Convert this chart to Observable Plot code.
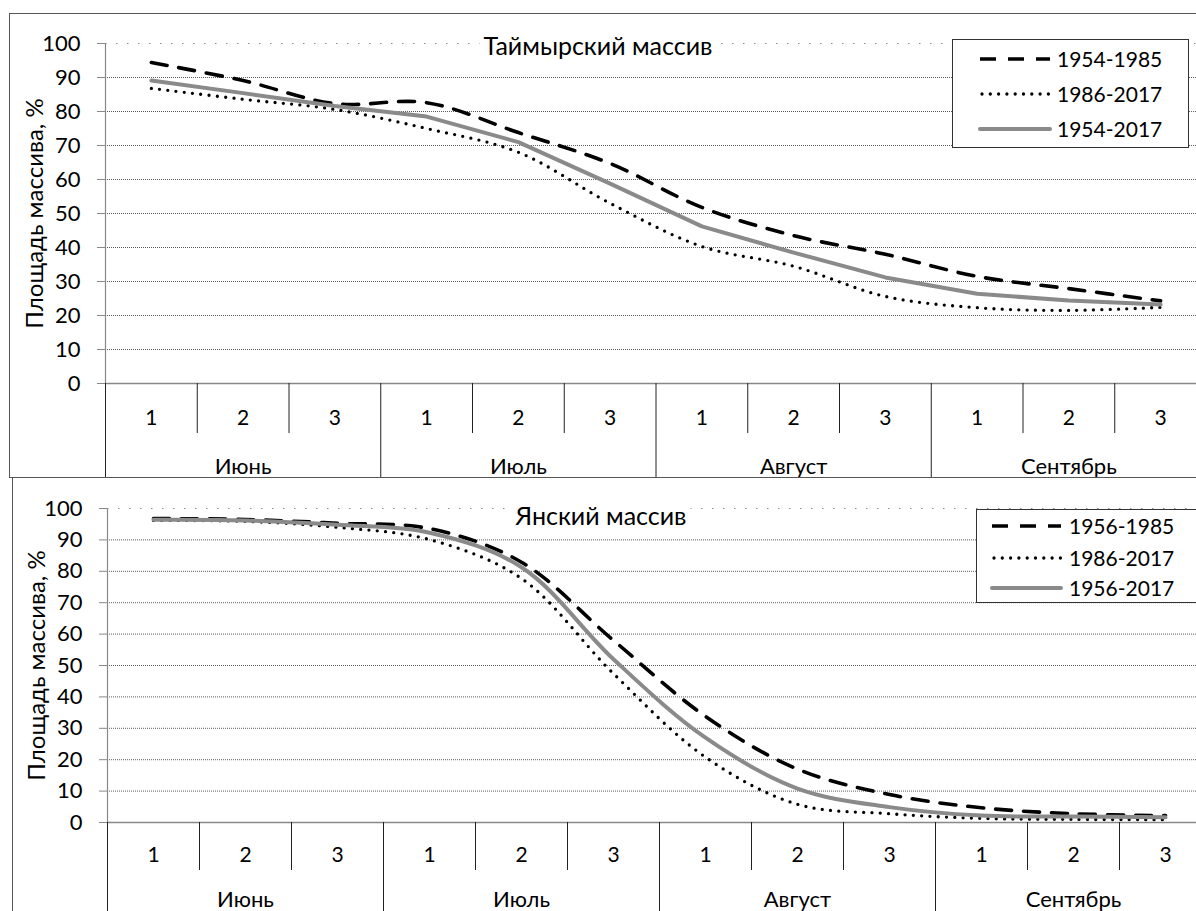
<!DOCTYPE html>
<html>
<head>
<meta charset="utf-8">
<script src="https://cdn.jsdelivr.net/npm/d3@7"></script>
<script src="https://cdn.jsdelivr.net/npm/@observablehq/plot@0.6"></script>
<style>
  html, body { margin: 0; padding: 0; background: #fff; overflow: hidden; }
  #root { position: relative; width: 1196px; height: 911px; overflow: hidden; font-family: Lato, "Open Sans", sans-serif; color: #000; }
  .plotbox { position: absolute; left: 0; width: 1196px; }
  .plotbox svg { display: block; }
  .frame { position: absolute; border: 1.4px solid #555; box-sizing: border-box; pointer-events: none; }
  .title { position: absolute; background: #fff; font-size: 25px; line-height: 28px; padding: 0 4px; transform: translate(-50%, -50%); white-space: nowrap; }
  .legend { position: absolute; background: #fff; border: 1.3px solid #333; box-sizing: border-box; }
  .legend .row { position: absolute; left: 0; height: 26px; width: 100%; }
  .legend .row svg { position: absolute; top: 0; }
  .legend .row span { position: absolute; top: 0; font-size: 21px; line-height: 26px; white-space: nowrap; }
</style>
</head>
<body>
<div id="root"></div>
<script>
// ---------- data ----------
const weeks = ["1", "2", "3", "1", "2", "3", "1", "2", "3", "1", "2", "3"];
const months = ["Июнь", "Июль", "Август", "Сентябрь"];
const yTicks = [0, 10, 20, 30, 40, 50, 60, 70, 80, 90, 100];
const yLabel = "Площадь массива, %";

const taymyrTitle = "Таймырский массив";
const taymyrSeries = ["1954-1985", "1986-2017", "1954-2017"];
const taymyr_1954_1985 = [94.4, 89.1, 82.3, 82.6, 73.8, 64.7, 51.8, 43.5, 38.0, 31.5, 27.9, 24.3];
const taymyr_1986_2017 = [86.8, 83.6, 80.6, 75.0, 68.0, 53.0, 40.3, 34.5, 25.6, 22.3, 21.5, 22.4];
const taymyr_1954_2017 = [89.1, 85.4, 81.6, 78.5, 71.0, 58.8, 46.2, 38.5, 31.2, 26.4, 24.4, 23.2];

const yanaTitle = "Янский массив";
const yanaSeries = ["1956-1985", "1986-2017", "1956-2017"];
const yana_1956_1985 = [96.8, 96.5, 95.3, 93.6, 82.9, 58.0, 33.8, 17.0, 8.9, 4.7, 2.8, 2.2];
const yana_1986_2017 = [96.2, 95.9, 94.0, 90.1, 77.7, 47.4, 20.8, 5.8, 2.8, 1.3, 1.0, 0.9];
const yana_1956_2017 = [96.4, 96.2, 94.8, 92.3, 81.3, 52.0, 27.0, 10.8, 4.9, 2.2, 1.9, 1.7];

// ---------- styles ----------
const lineStyles = [
  {stroke: "#000", strokeWidth: 3.6, strokeDasharray: "16,12"},
  {stroke: "#000", strokeWidth: 3.3, strokeDasharray: "0,8.3", strokeLinecap: "round"},
  {stroke: "#8a8a8a", strokeWidth: 4, strokeLinecap: "round", strokeLinejoin: "round"}
];
const FONT = "Lato, 'Open Sans', sans-serif";

function makeChart(cfg) {
  const n = weeks.length;
  const rows = [];
  cfg.series.forEach((s, k) => cfg.values[k].forEach((v, i) => rows.push({series: s, k, x: i + 0.5, v})));
  const seps = d3.range(n + 1);
  const monthSeps = seps.filter(i => i % 3 === 0);
  const weekSeps = seps.filter(i => i % 3 !== 0);
  const idx = d3.range(n);
  const y0 = cfg.height - cfg.marginBottom;
  return Plot.plot({
    width: 1196,
    height: cfg.height,
    marginTop: cfg.marginTop,
    marginBottom: cfg.marginBottom,
    marginLeft: cfg.marginLeft,
    marginRight: 0,
    x: {type: "linear", domain: [0, n], range: [cfg.marginLeft, cfg.xRight]},
    y: {type: "linear", domain: [0, 100], range: [y0, cfg.marginTop]},
    style: {fontFamily: FONT, background: "transparent", overflow: "visible", color: "#000"},
    marks: [
      Plot.gridY(yTicks.filter(t => t > 0 && t < 100), {stroke: "#5e5e5e", strokeOpacity: 1, strokeWidth: 1, strokeDasharray: "1,1"}),
      Plot.gridY([100], {stroke: "#8c8c8c", strokeOpacity: 1, strokeWidth: 1.2, strokeDasharray: "1.5,9.5"}),
      Plot.ruleX([0], {stroke: "#888", strokeWidth: 1.2}),
      Plot.ruleY([0], {stroke: "#888", strokeWidth: 1.3}),
      Plot.axisY({ticks: yTicks, tickSize: 8, stroke: "#888", label: null, tickFormat: () => ""}),
      Plot.text(yTicks, {y: d => d, frameAnchor: "left", dx: -25, textAnchor: "end", text: d => String(d), fontSize: 22}),
      Plot.axisX({ticks: weekSeps, tickSize: cfg.weekTick, tickFormat: () => "", stroke: "#222", label: null}),
      Plot.axisX({ticks: monthSeps, tickSize: cfg.monthTick, tickFormat: () => "", stroke: "#222", label: null}),
      Plot.text(idx, {x: i => i + 0.5, frameAnchor: "bottom", dy: cfg.weekDy, text: i => weeks[i], fontSize: 21}),
      Plot.text(months, {x: (d, j) => j * 3 + 1.5, frameAnchor: "bottom", dy: cfg.monthDy, text: d => d, fontSize: 22}),
      Plot.text([yLabel], {frameAnchor: "left", dx: -70, rotate: -90, textAnchor: "middle", text: d => d, fontSize: 24, letterSpacing: "0.9px"}),
      ...cfg.series.map((s, k) => Plot.line(rows.filter(r => r.k === k), {x: "x", y: "v", curve: cfg.curves[k], ...lineStyles[k]}))
    ]
  });
}

function legend(parent, cfg) {
  const box = document.createElement("div");
  box.className = "legend";
  Object.assign(box.style, {left: cfg.left + "px", top: cfg.top + "px", width: cfg.width + "px", height: cfg.height + "px"});
  cfg.series.forEach((s, k) => {
    const row = document.createElement("div");
    row.className = "row";
    row.style.top = (cfg.rows[k] - 13) + "px";
    const st = lineStyles[k];
    const svg = d3.create("svg").attr("width", cfg.sampleW + 6).attr("height", 26)
      .style("left", (cfg.sampleX - 3) + "px");
    svg.append("line").attr("x1", 3 + (k === 1 ? 2 : 0)).attr("x2", 3 + cfg.sampleW).attr("y1", 13).attr("y2", 13)
      .attr("stroke", st.stroke).attr("stroke-width", st.strokeWidth)
      .attr("stroke-dasharray", st.strokeDasharray || null)
      .attr("stroke-linecap", st.strokeLinecap || "butt");
    row.appendChild(svg.node());
    const t = document.createElement("span");
    t.textContent = s;
    t.style.left = cfg.textX + "px";
    row.appendChild(t);
    box.appendChild(row);
  });
  parent.appendChild(box);
}

function title(parent, text, cx, cy) {
  const d = document.createElement("div");
  d.className = "title";
  d.textContent = text;
  d.style.left = cx + "px";
  d.style.top = cy + "px";
  parent.appendChild(d);
}

const root = document.getElementById("root");

// top chart
const top1 = document.createElement("div");
top1.className = "plotbox";
top1.style.top = "0px";
top1.appendChild(makeChart({
  series: taymyrSeries,
  values: [taymyr_1954_1985, taymyr_1986_2017, taymyr_1954_2017],
  curves: ["catmull-rom", "catmull-rom", "linear"],
  height: 478, marginTop: 43, marginBottom: 95, marginLeft: 105, xRight: 1206,
  weekTick: 50, monthTick: 95, weekDy: 41, monthDy: 90
}));
root.appendChild(top1);

// bottom chart
const bot = document.createElement("div");
bot.className = "plotbox";
bot.style.top = "478px";
bot.appendChild(makeChart({
  series: yanaSeries,
  values: [yana_1956_1985, yana_1986_2017, yana_1956_2017],
  curves: ["catmull-rom", "catmull-rom", "catmull-rom"],
  height: 433, marginTop: 30, marginBottom: 89, marginLeft: 107, xRight: 1211,
  weekTick: 48, monthTick: 100, weekDy: 39, monthDy: 84
}));
root.appendChild(bot);

// frames
const f1 = document.createElement("div");
f1.className = "frame";
Object.assign(f1.style, {left: "9px", top: "13px", width: "1300px", height: "465px"});
root.appendChild(f1);
const f2 = document.createElement("div");
f2.className = "frame";
Object.assign(f2.style, {left: "12px", top: "477px", width: "1300px", height: "500px"});
root.appendChild(f2);

// titles
title(root, taymyrTitle, 598, 45);
title(root, yanaTitle, 601, 515);

// legends
legend(root, {series: taymyrSeries, left: 952, top: 39, width: 237, height: 109, rows: [19, 54, 89], sampleX: 27, sampleW: 70, textX: 104});
legend(root, {series: yanaSeries, left: 976, top: 509, width: 260, height: 94, rows: [16, 48, 78], sampleX: 15, sampleW: 69, textX: 92});
</script>
</body>
</html>
